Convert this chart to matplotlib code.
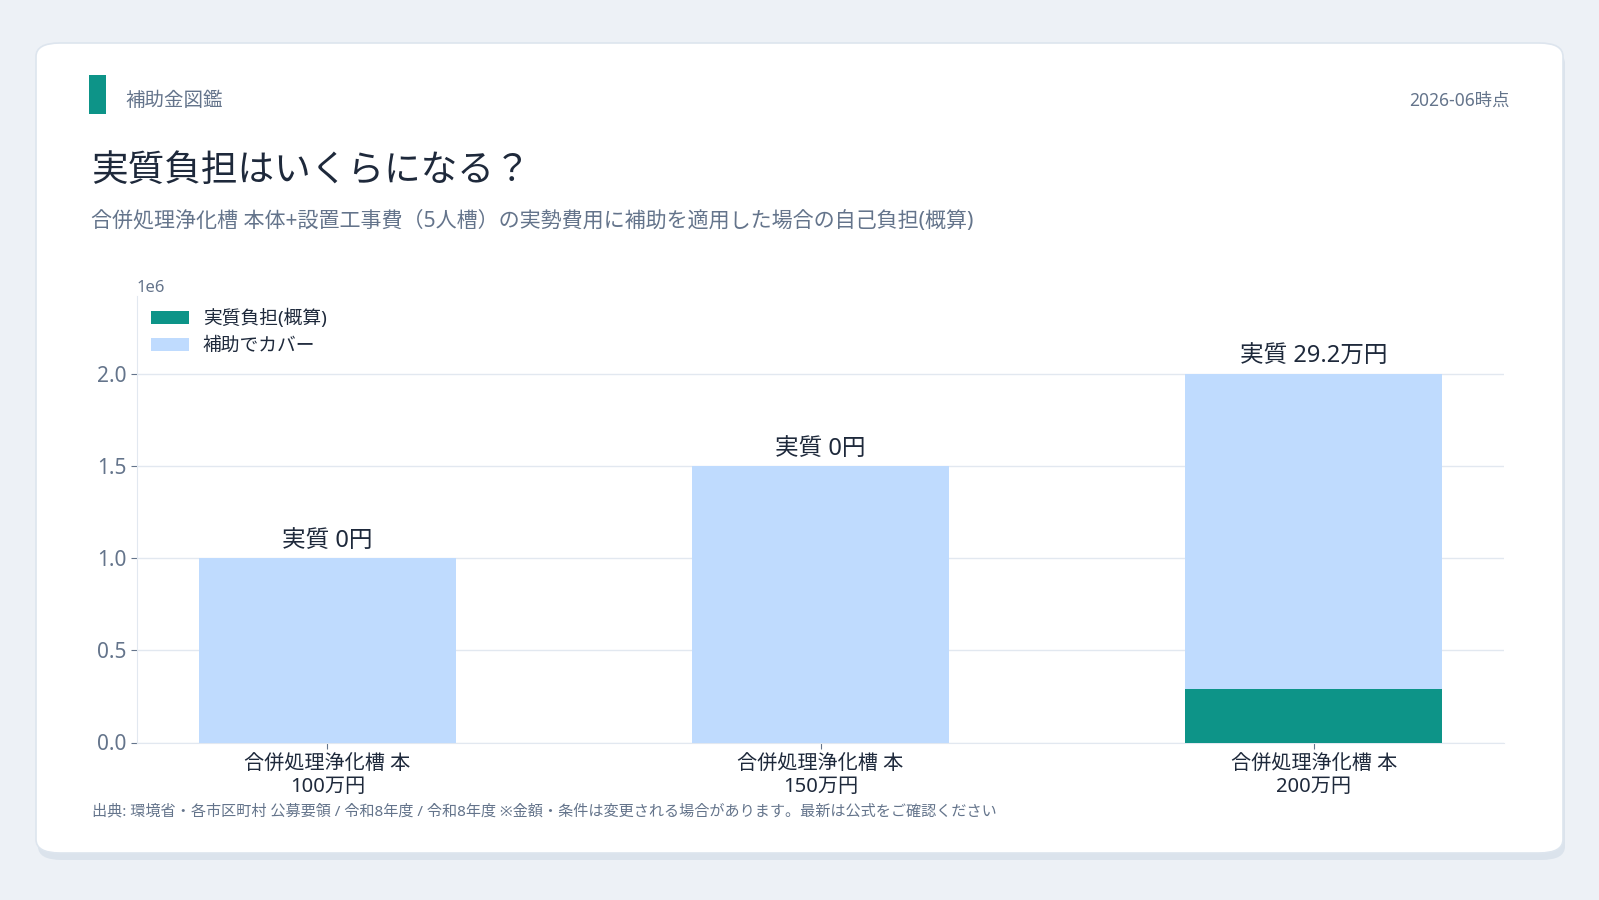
import matplotlib
matplotlib.use("Agg")
import matplotlib.pyplot as plt
from matplotlib.patches import FancyBboxPatch, Rectangle

plt.rcParams['font.family'] = ['Noto Sans', 'Noto Sans CJK JP', 'DejaVu Sans']

categories = ["合併処理浄化槽 本\n100万円", "合併処理浄化槽 本\n150万円", "合併処理浄化槽 本\n200万円"]
total_cost = [1000000, 1500000, 2000000]
burden = [0, 0, 292000]
covered = [t - b for t, b in zip(total_cost, burden)]

TEAL = "#0d9488"
LIGHT_BLUE = "#bfdbfe"
DARK = "#1e293b"
GREY = "#64748b"
GRID = "#e2e8f0"

fig = plt.figure(figsize=(15.99, 9.0), dpi=100)
fig.patch.set_facecolor("#edf1f6")

W, H = 1599, 900


def fx(px):
    return px / W


def fy(py):
    return 1 - py / H


# card shadow + card
shadow = FancyBboxPatch((fx(38), fy(860)), fx(1527), fy(50) - fy(860),
                        boxstyle="round,pad=0,rounding_size=0.015",
                        transform=fig.transFigure, facecolor="#dbe3ec",
                        edgecolor="none", zorder=0)
fig.patches.append(shadow)
card = FancyBboxPatch((fx(36), fy(853)), fx(1527), fy(43) - fy(853),
                      boxstyle="round,pad=0,rounding_size=0.015",
                      transform=fig.transFigure, facecolor="white",
                      edgecolor="#dde5ee", linewidth=1.2, zorder=1)
fig.patches.append(card)

# accent bar + header
fig.patches.append(Rectangle((fx(89), fy(114)), fx(17), fy(75) - fy(114),
                             transform=fig.transFigure, facecolor=TEAL,
                             edgecolor="none", zorder=2))
fig.text(fx(125), fy(101), "補助金図鑑", fontsize=14, color=GREY, va="center", ha="left")
fig.text(fx(1510), fy(101), "2026-06時点", fontsize=12.5, color=GREY, va="center", ha="right")
fig.text(fx(91), fy(172), "実質負担はいくらになる？", fontsize=26.4, color=DARK, va="center", ha="left")
fig.text(fx(91), fy(222), "合併処理浄化槽 本体+設置工事費（5人槽）の実勢費用に補助を適用した場合の自己負担(概算)",
         fontsize=15.15, color=GREY, va="center", ha="left")
fig.text(fx(92), fy(812), "出典: 環境省・各市区町村 公募要領 / 令和8年度 / 令和8年度 ※金額・条件は変更される場合があります。最新は公式をご確認ください",
         fontsize=10.9, color=GREY, va="center", ha="left")

ax = fig.add_axes([fx(137), 1 - 742.5 / H, fx(1504) - fx(137), (742.5 - 296) / H])
ax.set_facecolor("white")
ax.set_zorder(3)

x = list(range(len(categories)))
ax.bar(x, burden, width=0.52, color=TEAL, label="実質負担(概算)", zorder=3)
ax.bar(x, covered, width=0.52, bottom=burden, color=LIGHT_BLUE, label="補助でカバー", zorder=3)

for xi, t, b in zip(x, total_cost, burden):
    if b == 0:
        txt = "実質 0円"
    else:
        txt = f"実質 {b / 10000:.1f}万円"
    ax.annotate(txt, (xi, t), xytext=(0, 4), textcoords="offset points",
                ha="center", va="bottom", fontsize=17, color=DARK)

ax.set_ylim(0, 2.425e6)
ax.set_xticks(x)
ax.set_xticklabels(categories, fontsize=14.5, color=DARK, linespacing=1.1)
ax.tick_params(axis="y", labelsize=15, labelcolor=GREY, color=GREY, length=4)
ax.tick_params(axis="x", color=GREY, length=4, pad=5)
ax.yaxis.get_offset_text().set_color(GREY)
ax.yaxis.get_offset_text().set_fontsize(12)

ax.grid(axis="y", color=GRID, linewidth=1, zorder=0)
ax.set_axisbelow(True)
for side in ["top", "right"]:
    ax.spines[side].set_visible(False)
for side in ["left", "bottom"]:
    ax.spines[side].set_color(GRID)

ax.legend(loc="upper left", frameon=False, fontsize=13.5, labelcolor=DARK,
          bbox_to_anchor=(-0.002, 1.01), handlelength=2.0, handletextpad=0.75)

fig.savefig("out.png", dpi=100, facecolor=fig.get_facecolor())
